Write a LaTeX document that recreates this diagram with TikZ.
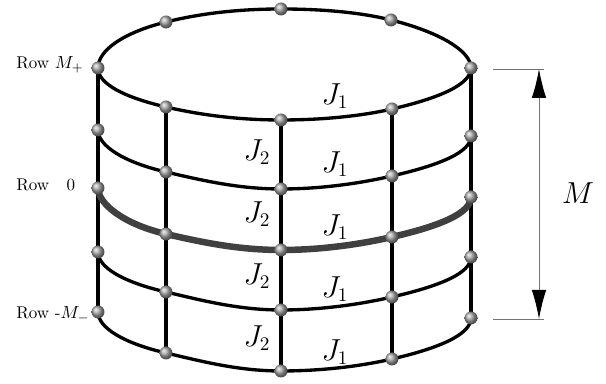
\documentclass[tikz,border=0pt]{standalone}
\usepackage{tikz}
\usetikzlibrary{arrows.meta, backgrounds}

\begin{document}
\begin{tikzpicture}[x=0.02cm, y=0.02cm,
    site/.style={circle, inner sep=0pt, minimum size=0.26cm, ball color=gray!70},
    coupling/.style={font=\fontsize{16}{19}\selectfont},
    rowlabel/.style={anchor=west, inner sep=0pt, font=\fontsize{9.7}{12}\selectfont},
    guide/.style={line width=0.5pt, draw=black!55},
    ring/.style={line width=1.9pt},
    edgepost/.style={line width=2.3pt},
    post/.style={line width=2pt},
    midrow/.style={line width=3.7pt, draw=black!75},
    legone/.style={out=-90, in=167, out distance=0.31cm, in distance=0.88cm},
    legtwo/.style={out=-13, in=180, out distance=0.69cm, in distance=0.87cm},
    legthree/.style={out=0, in=193, out distance=0.8cm, in distance=0.65cm},
    legfour/.style={out=13, in=-90, out distance=0.97cm, in distance=0.33cm}]
  \useasboundingbox (0,0) rectangle (606,384);
  % sitios: filas a..e, columnas l, p, q, s, r
  \foreach \n/\x/\y in {la/98/316, lb/98/254, lc/98/196, ld/98/132, le/98/72,
      pa/166/277, pb/166/212, pc/166/150, pd/166/92, pe/166/31,
      qa/281/264, qb/281/195, qc/281/134, qd/281/74, qe/281/13,
      sa/392/275, sb/392/208, sc/392/147, sd/392/87, se/392/25,
      ra/471/316, rb/471/248, rc/471/187, rd/471/127, re/471/66,
      ub/166/362, uq/281/375, us/391/364}
    \node[site] (\n) at (\x,\y) {};
  \begin{scope}[on background layer]
    % anillo de arriba
    \draw[ring] (la.center) to[out=90, in=194, out distance=0.35cm, in distance=0.89cm] (ub.center)
      to[out=14, in=180, out distance=0.69cm, in distance=0.87cm] (uq.center)
      to[out=0, in=166, out distance=0.8cm, in distance=0.65cm] (us.center)
      to[out=-14, in=90, out distance=0.97cm, in distance=0.35cm] (ra.center);
    % filas
    \foreach \a in {a,b,d,e}
      \draw[ring] (l\a.center) to[legone] (p\a.center) to[legtwo] (q\a.center) to[legthree] (s\a.center) to[legfour] (r\a.center);
    % columnas
    \foreach \c in {l,r}
      \draw[edgepost] (\c a.center)--(\c b.center) (\c b.center)--(\c c.center) (\c c.center)--(\c d.center) (\c d.center)--(\c e.center);
    \foreach \c in {p,q,s}
      \draw[post] (\c a.center)--(\c b.center) (\c b.center)--(\c c.center) (\c c.center)--(\c d.center) (\c d.center)--(\c e.center);
    \draw[midrow] (lc.center) to[legone] (pc.center) to[legtwo] (qc.center) to[legthree] (sc.center) to[legfour] (rc.center);
  \end{scope}
  % acoplamientos
  \foreach \i/\y in {1/288, 2/220, 3/157, 4/95, 5/32}
    \node[coupling] (jone\i) at (335,\y) {$J_1$};
  \foreach \i/\y in {1/232, 2/170, 3/108, 4/46}
    \node[coupling] (jtwo\i) at (257,\y) {$J_2$};
  % etiquetas de fila
  \node[rowlabel] (rowtop) at (16,319) {Row $M_+$};
  \node[rowlabel] (rowmid) at (16,199) {Row\hspace{0.85em}\,0};
  \node[rowlabel] (rowbot) at (16,69) {Row -$M_-$};
  % altura M
  \coordinate (mtl) at (493,315);
  \coordinate (mtr) at (544,315);
  \coordinate (mbl) at (493,65);
  \coordinate (mbr) at (544,65);
  \coordinate (mt) at (539,315);
  \coordinate (mb) at (539,65);
  \draw[guide] (mtl)--(mtr);
  \draw[guide] (mbl)--(mbr);
  \draw[guide, {Latex[length=0.58cm, width=0.29cm, black]}-{Latex[length=0.58cm, width=0.29cm, black]}] (mt)--(mb);
  \node[font=\fontsize{16}{19}\selectfont] (mlabel) at (578,191) {$M$};
\end{tikzpicture}
\end{document}
